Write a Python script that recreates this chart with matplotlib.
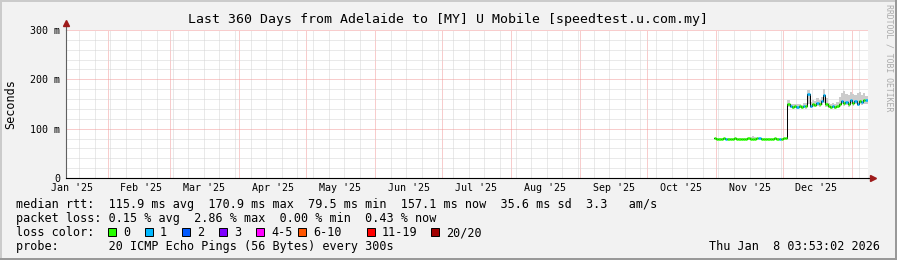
"""
Smokeping 360 jours : Adelaide -> [MY] U Mobile.
"""
import numpy as np
import pandas as pd
import matplotlib
matplotlib.use('Agg')
import matplotlib.pyplot as plt
import matplotlib.dates as mdates
from matplotlib.ticker import MultipleLocator, FuncFormatter, NullFormatter
from matplotlib.patches import Rectangle

plt.rcParams['font.family'] = 'DejaVu Sans Mono'

# --- données ---
view_start = pd.Timestamp('2025-01-13 03:53:02')
view_end = pd.Timestamp('2026-01-08 03:53:02')
data_start = '2025-10-31'

# médiane quotidienne (ms) : 33 jours à ~80 ms puis 36 jours à ~150 ms
median_ms = [80.1, 80.0, 79.9, 80.0, 80.2, 80.0, 79.8, 79.9, 80.0, 80.1, 80.0,
             79.9, 79.7, 79.8, 80.0, 80.1, 80.0, 79.9, 80.0, 80.3, 80.1, 79.9,
             79.8, 79.5, 79.7, 79.9, 80.0, 80.1, 80.0, 79.9, 80.0, 80.1, 80.2,
             151, 145, 144, 146, 144, 145, 143, 146, 145, 170.9, 146, 150,
             148, 153, 149, 156, 169, 150, 145, 144, 146, 143, 145, 150,
             157, 152, 155, 150, 158, 153, 156, 151, 157, 154, 159, 157.1]
smoke_hi = [81.0, 81.2, 80.9, 81.1, 81.4, 81.0, 80.8, 81.0, 81.2, 81.3, 81.1,
            81.0, 80.9, 81.0, 81.5, 81.8, 82.5, 86.0, 83.0, 82.0, 81.4, 81.0,
            80.9, 80.6, 80.8, 81.0, 81.2, 81.3, 81.1, 81.0, 81.2, 81.4, 82.0,
            158, 150, 149, 151, 149, 150, 148, 152, 152, 178, 155, 158,
            156, 162, 158, 165, 181, 162, 152, 150, 153, 150, 154, 165,
            172, 176, 170, 168, 175, 170, 168, 172, 174, 168, 172, 167]
smoke_lo = [79.5, 79.4, 79.3, 79.4, 79.6, 79.4, 79.2, 79.3, 79.4, 79.5, 79.4,
            79.3, 79.1, 79.2, 79.4, 79.5, 79.4, 79.3, 79.4, 79.6, 79.5, 79.3,
            79.2, 78.9, 79.1, 79.3, 79.4, 79.5, 79.4, 79.3, 79.4, 79.5, 79.6,
            143, 141, 140, 141, 140, 141, 139, 141, 140, 150, 141, 144,
            143, 146, 144, 148, 152, 144, 141, 140, 141, 139, 141, 144,
            150, 146, 148, 144, 150, 146, 149, 145, 150, 147, 151, 150]
loss_pct = [0, 0, 0, 0, 0, 0.3, 0, 0, 0, 0, 0,
            0, 0, 0, 0, 0, 0, 0, 0, 0, 0.2, 0,
            0, 0, 0, 0, 0, 0, 0, 0.3, 0, 0, 0,
            0, 0.4, 0, 0, 0.3, 0, 0, 0.5, 0, 0.6, 0.4, 0,
            0, 0.3, 0, 0.5, 2.86, 0, 0, 0, 0.3, 0, 0, 0,
            0.4, 0, 0.5, 0, 0.3, 0, 0.4, 0.3, 0, 0.4, 0, 0.43]

loss_names = ["0", "1", "2", "3", "4-5", "6-10", "11-19", "20/20"]
loss_colors = ["#26ff00", "#00b8ff", "#0059ff", "#7e00ff",
               "#ff00ff", "#ff5500", "#ff0000", "#a10000"]
loss_limits = [0, 1, 2, 3, 5, 10, 19]   # pings perdus sur 20
loss_box_x = [108, 145, 182, 219, 256, 298, 367, 431]   # position (px) des carrés

title = "Last 360 Days from Adelaide to [MY] U Mobile [speedtest.u.com.my]"
row_rtt = "median rtt:  115.9 ms avg  170.9 ms max  79.5 ms min  157.1 ms now  35.6 ms sd  3.3   am/s"
row_loss = "packet loss: 0.15 % avg  2.86 % max  0.00 % min  0.43 % now"
row_probe = "probe:       20 ICMP Echo Pings (56 Bytes) every 300s"
stamp = "Thu Jan  8 03:53:02 2026"

W, H = 897, 260
def fx(px): return px / W
def fy(py): return 1 - py / H

n = len(median_ms)
edges = mdates.date2num(pd.date_range(data_start, periods=n + 1, freq='D'))
med = np.array(median_ms)
pings = np.array(loss_pct) / 100 * 20
seg_colors = [loss_colors[i] for i in np.searchsorted(loss_limits, pings, side='left')]

fig = plt.figure(figsize=(W / 100, H / 100), dpi=100, facecolor='#f2f2f2')
ax = fig.add_axes([fx(66), fy(178), fx(868 - 66), (178 - 30) / H])
ax.set_facecolor('white')

# fumée + médiane
ax.fill_between(edges, np.append(smoke_lo, smoke_lo[-1]), np.append(smoke_hi, smoke_hi[-1]),
                step='post', color='#cccccc', lw=0, zorder=2)
ax.step(edges, np.append(med, med[-1]), where='post', color='black', lw=0.7, zorder=3)
ax.hlines(med, edges[:-1], edges[1:], colors=seg_colors, lw=1.8, zorder=4)

ax.set_xlim(mdates.date2num(view_start), mdates.date2num(view_end))
ax.set_ylim(0, 300)

# grilles (pointillés 1 px)
ax.xaxis.set_major_locator(mdates.MonthLocator())
ax.xaxis.set_minor_locator(mdates.WeekdayLocator(byweekday=mdates.SU))
ax.xaxis.set_major_formatter(NullFormatter())
ax.yaxis.set_major_locator(MultipleLocator(100))
ax.yaxis.set_minor_locator(MultipleLocator(20))
ax.yaxis.set_major_formatter(FuncFormatter(lambda v, p: "0" if v == 0 else f"{v:.0f} m"))
ax.grid(True, which='minor', color='#d4d4d4', lw=0.72, linestyle=(0, (1, 1)),
        snap=True, zorder=0)
ax.grid(True, which='major', color='#f29a9a', lw=0.72, linestyle=(0, (1, 1)),
        snap=True, zorder=1)
ax.set_axisbelow(True)
ax.tick_params(which='both', length=0)
ax.tick_params(axis='y', labelsize=7.2, pad=4.3)

# étiquettes des mois, centrées au milieu du mois
for m in pd.date_range('2025-01-01', '2025-12-01', freq='MS'):
    ax.text(mdates.date2num(m + pd.Timedelta(days=15)), (178 - 191) / 148, m.strftime("%b '%y"),
            transform=ax.get_xaxis_transform(), ha='center', va='baseline', fontsize=7.2)

for s in ('top', 'right'):
    ax.spines[s].set_visible(False)
ax.spines['left'].set_color('#606060')
ax.spines['left'].set_linewidth(0.8)
ax.spines['bottom'].set_color('black')
ax.spines['bottom'].set_linewidth(0.8)
ax.plot([0, 0], [1, 1.04], transform=ax.transAxes, color='#606060', lw=0.8, clip_on=False)
ax.plot([1, 1.004], [0, 0], transform=ax.transAxes, color='black', lw=0.8, clip_on=False)
ax.plot([0], [1.045], marker='^', ms=4.5, color='#9e1b1b', transform=ax.transAxes, clip_on=False)
ax.plot([1.006], [0], marker='>', ms=4.5, color='#9e1b1b', transform=ax.transAxes, clip_on=False)

# textes
fig.text(fx(447.5), fy(23.5), title, ha='center', va='baseline', fontsize=9.5)
fig.text(fx(11), fy(104), "Seconds", rotation=90, ha='center', va='center', fontsize=8.5)
fig.text(fx(889), fy(4), "RRDTOOL / TOBI OETIKER", rotation=270, ha='center', va='top',
         fontsize=5.9, color='#ababab')
fig.text(fx(16), fy(208), row_rtt, va='baseline', fontsize=8.5)
fig.text(fx(16), fy(222), row_loss, va='baseline', fontsize=8.5)
fig.text(fx(16), fy(236), "loss color:", va='baseline', fontsize=8.5)
fig.text(fx(16), fy(250), row_probe, va='baseline', fontsize=8.5)
fig.text(fx(880), fy(250), stamp, ha='right', va='baseline', fontsize=8.5)

# légende des couleurs de perte
for bx, name, col in zip(loss_box_x, loss_names, loss_colors):
    fig.add_artist(Rectangle((fx(bx), fy(236)), 8 / W, 8 / H, transform=fig.transFigure,
                             facecolor=col, edgecolor='black', lw=0.7))
    fig.text(fx(bx + 15), fy(236), name, va='baseline', fontsize=8.5)

# cadre 3D
fig.add_artist(Rectangle((0, fy(2)), 1, 2 / H, transform=fig.transFigure, color='#cbcbcb', lw=0))
fig.add_artist(Rectangle((0, 0), 2 / W, 1, transform=fig.transFigure, color='#cbcbcb', lw=0))
fig.add_artist(Rectangle((0, 0), 1, 2 / H, transform=fig.transFigure, color='#999999', lw=0))
fig.add_artist(Rectangle((fx(W - 2), 0), 2 / W, 1, transform=fig.transFigure, color='#999999', lw=0))

fig.savefig('out.png', dpi=100, facecolor=fig.get_facecolor())
plt.close(fig)
